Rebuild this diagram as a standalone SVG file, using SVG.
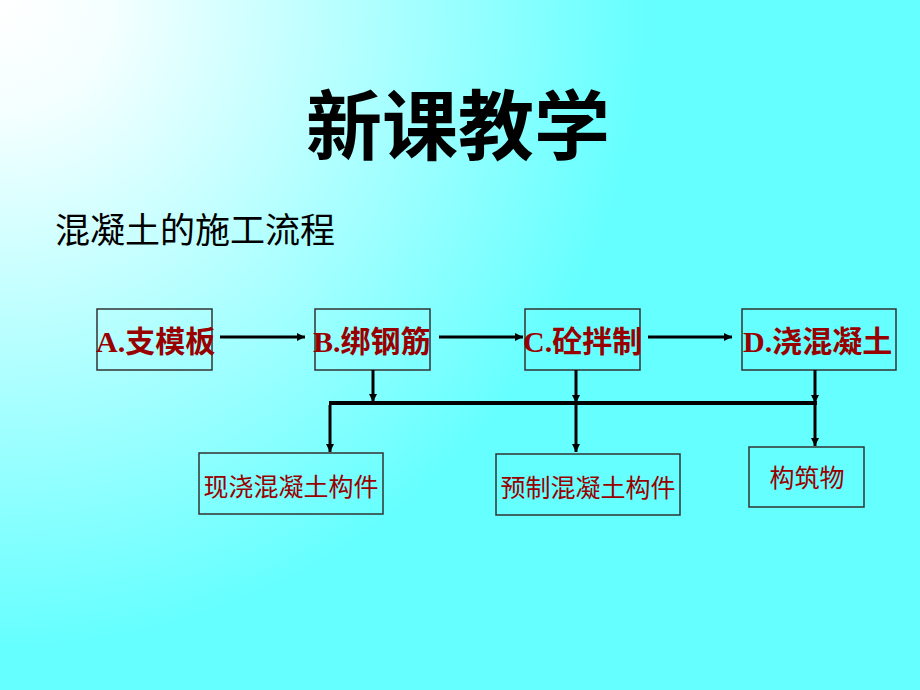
<svg xmlns="http://www.w3.org/2000/svg" width="920" height="690" viewBox="0 0 920 690">
  <defs>
    <radialGradient id="bg" gradientUnits="userSpaceOnUse" cx="0" cy="0" r="760">
      <stop offset="0" stop-color="#ffffff"/>
      <stop offset="0.15" stop-color="#f4ffff"/>
      <stop offset="0.85" stop-color="#66ffff"/>
      <stop offset="1" stop-color="#66ffff"/>
    </radialGradient>
    <marker id="arr" viewBox="0 0 10 10" refX="10" refY="5" markerWidth="9" markerHeight="8" markerUnits="userSpaceOnUse" orient="auto">
      <path d="M0,0 L10,5 L0,10 z" fill="#000"/>
    </marker>
    <style>
      .box { fill: none; stroke: #333333; stroke-width: 1.5; }
      .lbl1 { font-family: "Liberation Serif", "Noto Sans CJK SC", serif; font-size: 30px; font-weight: bold; fill: #990000; }
      .lbl2 { font-family: "Liberation Serif", "Noto Sans CJK SC", serif; font-size: 25px; fill: #990000; }
      .conn line { stroke: #000; stroke-width: 3; }
      .title { font-family: "Noto Sans CJK SC", sans-serif; font-size: 76px; font-weight: bold; fill: #000; }
      .sub { font-family: "Noto Sans CJK SC", sans-serif; font-size: 35px; fill: #000; }
    </style>
  </defs>
  <rect x="0" y="0" width="920" height="690" fill="url(#bg)"/>

  <text class="title" x="458" y="154" text-anchor="middle">新课教学</text>
  <text class="sub" x="55" y="243">混凝土的施工流程</text>

  <g id="nodeA">
    <rect class="box" x="97" y="309" width="115" height="61"/>
    <text class="lbl1" x="96" y="352">A.支模板</text>
  </g>
  <g id="nodeB">
    <rect class="box" x="315" y="309" width="115" height="61"/>
    <text class="lbl1" x="313" y="352">B.绑钢筋</text>
  </g>
  <g id="nodeC">
    <rect class="box" x="525" y="309" width="115" height="61"/>
    <text class="lbl1" x="523" y="352">C.砼拌制</text>
  </g>
  <g id="nodeD">
    <rect class="box" x="742" y="309" width="154" height="61"/>
    <text class="lbl1" x="743" y="352">D.浇混凝土</text>
  </g>

  <g id="nodeXJ">
    <rect class="box" x="199" y="453" width="184" height="61"/>
    <text class="lbl2" x="291" y="496" text-anchor="middle">现浇混凝土构件</text>
  </g>
  <g id="nodeYZ">
    <rect class="box" x="496" y="454" width="184" height="61"/>
    <text class="lbl2" x="588" y="497" text-anchor="middle">预制混凝土构件</text>
  </g>
  <g id="nodeGZW">
    <rect class="box" x="749" y="447" width="115" height="60"/>
    <text class="lbl2" x="807" y="487" text-anchor="middle">构筑物</text>
  </g>

  <g id="connectors" class="conn">
    <line x1="220" y1="337" x2="305" y2="337" marker-end="url(#arr)"/>
    <line x1="439" y1="337" x2="523" y2="337" marker-end="url(#arr)"/>
    <line x1="648" y1="337" x2="732" y2="337" marker-end="url(#arr)"/>
    <line x1="373" y1="370" x2="373" y2="402" marker-end="url(#arr)"/>
    <line x1="576" y1="370" x2="576" y2="403" marker-end="url(#arr)"/>
    <line x1="576" y1="403" x2="576" y2="452" marker-end="url(#arr)"/>
    <line x1="815" y1="370" x2="815" y2="403" marker-end="url(#arr)"/>
    <line x1="815" y1="403" x2="815" y2="446" marker-end="url(#arr)"/>
    <line x1="329" y1="403" x2="817" y2="403" style="stroke-width:4"/>
    <line x1="330" y1="405" x2="330" y2="452" marker-end="url(#arr)"/>
  </g>
</svg>
